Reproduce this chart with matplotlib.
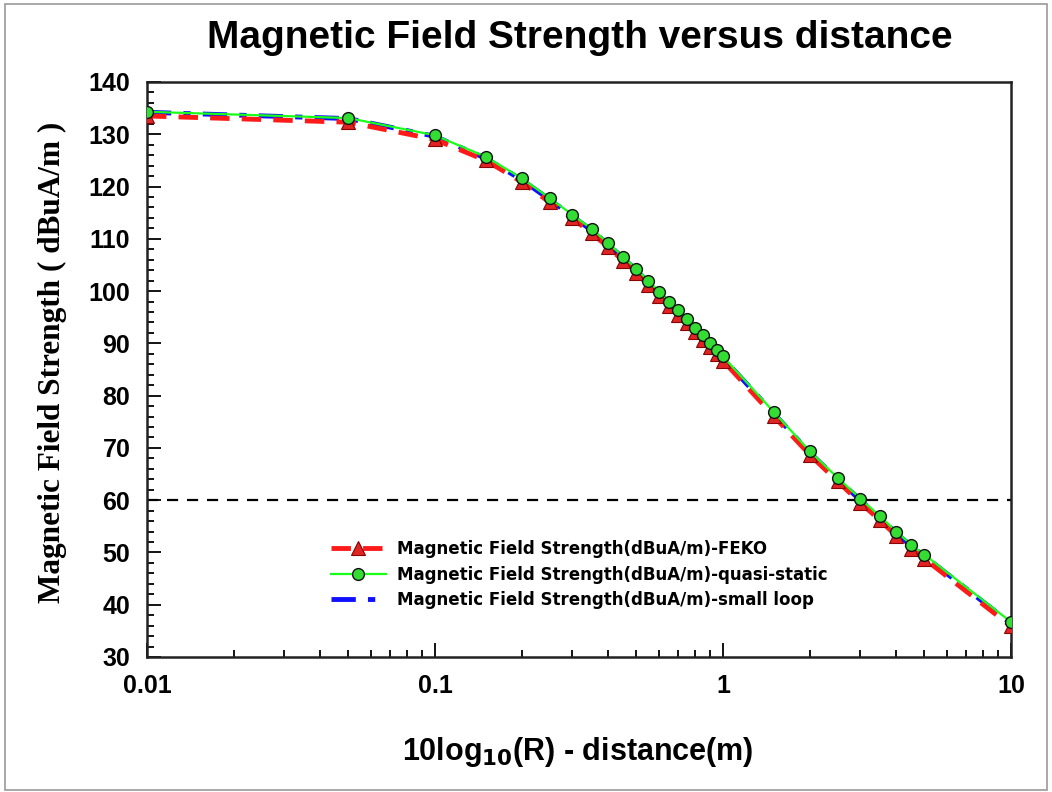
import numpy as np
import matplotlib.pyplot as plt
from matplotlib.patches import Rectangle
from matplotlib.ticker import LogLocator, MultipleLocator, FixedLocator, FixedFormatter

# distance (m) and field strength (dBuA/m)
dist = [0.01, 0.05, 0.1, 0.15, 0.2, 0.25, 0.3, 0.35, 0.4, 0.45, 0.5, 0.55, 0.6,
        0.65, 0.7, 0.75, 0.8, 0.85, 0.9, 0.95, 1.0, 1.5, 2.0, 2.5, 3.0, 3.5,
        4.0, 4.5, 5.0, 10.0]
feko = [133.5, 132.3, 129.0, 125.0, 120.9, 117.0, 113.9, 111.1, 108.4, 105.8,
        103.5, 101.2, 99.1, 97.2, 95.5, 93.8, 92.2, 90.7, 89.3, 88.0, 86.7,
        76.1, 68.7, 63.6, 59.5, 56.2, 53.2, 50.7, 48.8, 35.9]
quasi = [134.3, 133.1, 129.8, 125.7, 121.6, 117.8, 114.6, 111.9, 109.2, 106.6,
         104.3, 102.0, 99.9, 98.0, 96.3, 94.6, 93.0, 91.5, 90.1, 88.8, 87.5,
         76.9, 69.4, 64.3, 60.3, 57.0, 54.0, 51.5, 49.6, 36.7]
loop = [134.2, 133.0, 129.6, 125.4, 121.3, 117.5, 114.3, 111.6, 108.9, 106.3,
        104.0, 101.7, 99.6, 97.7, 96.0, 94.3, 92.7, 91.2, 89.8, 88.5, 87.2,
        76.6, 69.1, 64.0, 60.0, 56.7, 53.7, 51.2, 49.3, 36.4]
limit = 60
xticks = [0.01, 0.1, 1, 10]
xticklabels = ['0.01', '0.1', '1', '10']

fig = plt.figure(figsize=(10.52, 7.92), dpi=100)
fig.patches.append(Rectangle((0.005, 0.003), 0.99, 0.992, transform=fig.transFigure,
                             fill=False, edgecolor='#9a9a9a', lw=1.2))
ax = fig.add_axes([0.1397, 0.1705, 0.8213, 0.726])

ax.plot(dist, feko, color='#ff1a1a', lw=3.5, dashes=(4, 2.5), marker='^', ms=10,
        mfc='#e02424', mec='#8b0000', mew=0.8,
        label='Magnetic Field Strength(dBuA/m)-FEKO', zorder=3)
ax.plot(dist, quasi, color='#1aff1a', lw=1.6, marker='o', ms=8.5,
        mfc='#33dd33', mec='#111111', mew=1.0,
        label='Magnetic Field Strength(dBuA/m)-quasi-static', zorder=4)
ax.plot(dist, loop, color='#1010ff', lw=3.5, dashes=(5, 2.5, 1.5, 2.5),
        label='Magnetic Field Strength(dBuA/m)-small loop', zorder=2)
ax.axhline(limit, color='black', lw=1.6, dashes=(5, 4), zorder=1)

ax.set_xscale('log')
ax.set_xlim(0.01, 10)
ax.set_ylim(30, 140)
ax.xaxis.set_major_locator(FixedLocator(xticks))
ax.xaxis.set_major_formatter(FixedFormatter(xticklabels))
ax.xaxis.set_minor_locator(LogLocator(base=10, subs=np.arange(2, 10)))
ax.xaxis.set_minor_formatter(plt.NullFormatter())
ax.yaxis.set_major_locator(MultipleLocator(10))
ax.yaxis.set_minor_locator(MultipleLocator(2))

ax.tick_params(which='both', direction='in', top=False, right=False, width=1.3)
ax.tick_params(which='major', length=10)
ax.tick_params(which='minor', length=5)
ax.tick_params(axis='y', pad=12)
ax.tick_params(axis='x', pad=12)
for lab in ax.get_xticklabels() + ax.get_yticklabels():
    lab.set_fontfamily('Liberation Sans')
    lab.set_fontweight('bold')
    lab.set_fontsize(18)
for sp in ax.spines.values():
    sp.set_linewidth(1.8)
    sp.set_color('#222222')

fig.text(0.551, 0.952, 'Magnetic Field Strength versus distance', ha='center', va='center',
         fontsize=28, fontweight='bold', family='Liberation Sans')
fig.text(0.549, 0.050, r'10log$_{\mathbf{10}}$(R) - distance(m)', ha='center', va='center',
         fontsize=22, fontweight='bold', family='Liberation Sans')
fig.text(0.050, 0.542, 'Magnetic Field Strength ( dBuA/m )', ha='center', va='center',
         rotation=90, fontsize=22.5, fontweight='bold', family='Liberation Serif')

ax.legend(loc='upper left', bbox_to_anchor=(0.205, 0.215), frameon=False,
          prop={'family': 'DejaVu Sans', 'weight': 'bold', 'size': 12},
          handlelength=3.3, handletextpad=0.7, labelspacing=0.45, borderaxespad=0)

fig.savefig('out.png', dpi=100)
